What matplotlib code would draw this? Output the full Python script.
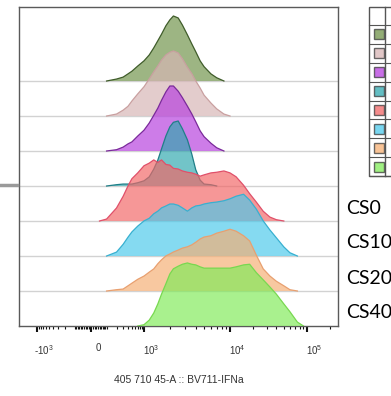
import numpy as np
import matplotlib.pyplot as plt
import matplotlib.transforms as mtransforms
from matplotlib.patches import Rectangle
from matplotlib.lines import Line2D

plt.rcParams['font.family'] = 'Liberation Sans'
plt.rcParams['mathtext.fontset'] = 'custom'
plt.rcParams['mathtext.rm'] = 'Liberation Sans'
plt.rcParams['mathtext.default'] = 'regular'

# ---------------- data ----------------
# bin centres on the BV711 channel
bins = [0, 50, 100, 200, 300, 400, 500, 700, 1000, 1150, 1300, 1450, 1600, 1800,
        2000, 2200, 2500, 2800, 3200, 3600, 4000, 4500, 5000, 6000, 7000, 8500,
        10000, 12000, 15000, 18000, 22000, 27000, 33000, 40000, 50000, 60000,
        75000, 90000]

# counts, normalised to mode (%), top histogram first
h_olive = [0, 0, 0, 3, 6, 11, 15, 23, 31, 40, 51, 62, 72, 85, 94, 100, 97, 86, 71,
           57, 45, 31, 22, 11, 5, 0, 0, 0, 0, 0, 0, 0, 0, 0, 0, 0, 0, 0]
h_pink = [0, 0, 0, 3, 9, 15, 23, 34, 45, 57, 68, 77, 86, 94, 98, 100, 97, 88, 75,
          65, 54, 43, 32, 20, 11, 3, 0, 0, 0, 0, 0, 0, 0, 0, 0, 0, 0, 0]
h_purple = [0, 0, 0, 2, 6, 11, 14, 23, 32, 43, 55, 66, 78, 91, 100, 100, 92, 82, 69,
            57, 45, 31, 22, 12, 5, 0, 0, 0, 0, 0, 0, 0, 0, 0, 0, 0, 0, 0]
h_teal = [0, 0, 0, 2, 3, 3, 3, 5, 8, 14, 26, 40, 57, 77, 91, 98, 100, 88, 71,
          49, 25, 9, 3, 2, 0, 0, 0, 0, 0, 0, 0, 0, 0, 0, 0, 0, 0, 0]
h_red = [0, 0, 3, 20, 38, 54, 65, 74, 85, 89, 94, 90, 94, 87, 86, 81, 80, 77, 75,
         74, 72, 69, 71, 74, 75, 77, 74, 68, 55, 42, 29, 15, 6, 2, 0, 0, 0, 0]
h_cyan = [0, 0, 0, 6, 18, 29, 37, 46, 54, 58, 65, 69, 74, 77, 80, 80, 78, 74, 69,
          74, 77, 78, 80, 82, 83, 85, 88, 92, 95, 86, 72, 54, 40, 28, 14, 5, 0, 0]
h_orange = [0, 0, 0, 2, 3, 8, 12, 18, 23, 29, 34, 42, 48, 54, 57, 60, 63, 66, 68,
            71, 75, 80, 83, 85, 89, 92, 95, 92, 85, 77, 55, 34, 23, 15, 8, 2, 0, 0]
h_green = [0, 0, 0, 0, 0, 0, 0, 0, 2, 9, 20, 34, 49, 65, 80, 88, 92, 95, 97,
           95, 94, 91, 89, 89, 89, 89, 89, 91, 94, 95, 82, 71, 60, 49, 34, 22, 6, 0]

hists = [h_olive, h_pink, h_purple, h_teal, h_red, h_cyan, h_orange, h_green]
face_colors = ['#6f9248', '#d7b5b5', '#b63ede', '#30a8af',
               '#f26666', '#4bc9eb', '#f6af73', '#80eb58']
edge_colors = ['#3f5c2a', '#c9a0a0', '#7a2a9a', '#207f88',
               '#e0506a', '#38b0d0', '#e8a070', '#78d850']

tick_vals = [-1e3, 0, 1e3, 1e4, 1e5]
tick_labels = [r'-10$^3$', '0', r'10$^3$', r'10$^4$', r'10$^5$']
minor_vals = ([-v for v in range(10, 100, 10)] + [-v for v in range(100, 1000, 100)]
              + list(range(10, 100, 10)) + list(range(100, 1000, 100))
              + list(range(2000, 10000, 1000)) + list(range(20000, 100000, 10000))
              + [200000])
stain_labels = ['CS0', 'CS10', 'CS20', 'CS40']
xlabel = '405 710 45-A :: BV711-IFNa'

# ---------------- biexponential-like axis ----------------
U = np.arcsinh(np.array(tick_vals) / 100)
P = np.array([37, 91, 144, 230, 307.])


def fwd(v):
    u = np.arcsinh(np.asarray(v, dtype=float) / 100)
    out = np.interp(u, U, P)
    out = np.where(u < U[0], P[0] + (u - U[0]) * (P[1] - P[0]) / (U[1] - U[0]), out)
    out = np.where(u > U[-1], P[-1] + (u - U[-1]) * (P[-1] - P[-2]) / (U[-1] - U[-2]), out)
    return out


def inv(p):
    p = np.asarray(p, dtype=float)
    u = np.interp(p, P, U)
    u = np.where(p < P[0], U[0] + (p - P[0]) * (U[1] - U[0]) / (P[1] - P[0]), u)
    u = np.where(p > P[-1], U[-1] + (p - P[-1]) * (U[-1] - U[-2]) / (P[-1] - P[-2]), u)
    return 100 * np.sinh(u)


W, H = 391, 396
fig = plt.figure(figsize=(W / 100, H / 100), dpi=100)
ax = fig.add_axes([19 / W, 1 - 326 / H, 319 / W, 319 / H])
ax.set_xscale('function', functions=(fwd, inv))
ax.set_xlim(float(inv(19)), float(inv(338)))
ax.set_ylim(0, 319 / 35)

PEAK = 65 / 35
n = len(hists)
x = np.array(bins, dtype=float)
for i, h in enumerate(hists):
    base = n - 1 - i
    h = np.array(h, dtype=float)
    nz = np.nonzero(h)[0]
    a, b = max(nz[0] - 1, 0), min(nz[-1] + 2, len(h))
    y = base + h[a:b] / 100 * PEAK
    ax.fill_between(x[a:b], base, y, facecolor=face_colors[i], alpha=0.68,
                    edgecolor='none', zorder=2 + i)
    ax.plot(x[a:b], y, color=edge_colors[i], lw=0.9, zorder=2.5 + i)

for k in range(1, n):
    ax.axhline(k, color='#d2d2d2', lw=1, zorder=1)

for s in ax.spines.values():
    s.set_color('#5a5a5a')
    s.set_linewidth(1)

ax.set_yticks([])
ax.set_xticks(tick_vals)
ax.set_xticklabels(tick_labels)
ax.set_xticks(minor_vals, minor=True)
ax.tick_params(axis='x', which='major', length=4.5, width=1.5, pad=8,
               labelsize=7, labelcolor='#333333', color='#111111')
ax.tick_params(axis='x', which='minor', length=2.5, width=0.8, color='#111111')
offset = mtransforms.ScaledTranslation(5 / 72, 0, fig.dpi_scale_trans)
for lab in ax.get_xticklabels():
    lab.set_transform(lab.get_transform() + offset)
ax.set_xlabel(xlabel, fontsize=7.5, color='#333333', labelpad=13)


# ---------------- legend table (cut off at right) ----------------
def fx(px):
    return px / W


def fy(py):
    return 1 - py / H


top, bot, left = 7, 176, 369
fig.add_artist(Rectangle((fx(left), fy(bot)), fx(40), (bot - top) / H,
                         transform=fig.transFigure, fill=False,
                         ec='#555555', lw=1))
fig.add_artist(Line2D([fx(385), fx(385)], [fy(top), fy(bot)], color='#555555', lw=1))
row_h = (bot - 25) / n
for k in range(n + 1):
    yy = 25 + k * row_h
    fig.add_artist(Line2D([fx(left), 1], [fy(yy), fy(yy)], color='#555555', lw=0.8))
for i in range(n):
    cy = 25 + (i + 0.5) * row_h
    fig.add_artist(Rectangle((fx(373.5), fy(cy + 5)), 10 / W, 10 / H,
                             transform=fig.transFigure, facecolor=face_colors[i],
                             alpha=0.75, ec='#3a3a3a', lw=1))

# stray grey mark at the left margin
fig.add_artist(Line2D([0, fx(17)], [fy(185), fy(185)], color='#9a9a9a', lw=2.5))

for lab, yy in zip(stain_labels, [208, 243, 278, 313]):
    fig.text(fx(346), fy(yy), lab, ha='left', va='center', fontsize=14,
             family='Lato', color='black')

fig.savefig('out.png', dpi=100)
